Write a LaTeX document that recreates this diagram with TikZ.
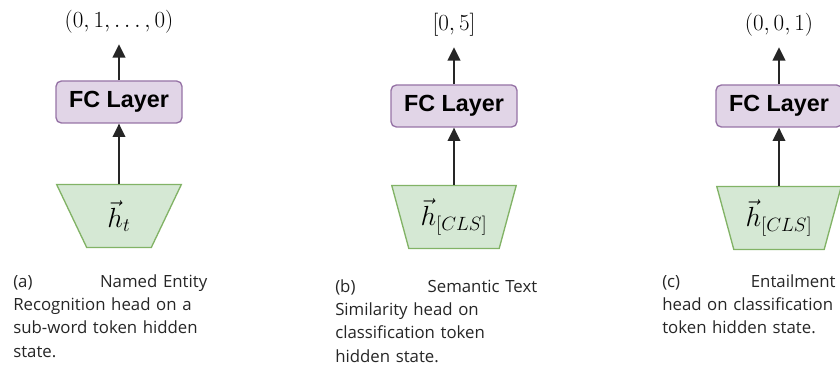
\documentclass[tikz,border=0pt]{standalone}
\usepackage{amsmath}
\usepackage{fontspec}
\newfontfamily\fcfont{Liberation Sans}
\newfontfamily\capfont{Open Sans}
\usepackage{xcolor}
\usetikzlibrary{arrows.meta, positioning, shapes.geometric}
\definecolor{fcfill}{HTML}{E1D5E7}
\definecolor{fcline}{HTML}{9673A6}
\definecolor{hidfill}{HTML}{D5E8D4}
\definecolor{hidline}{HTML}{82B366}

\begin{document}
\begin{tikzpicture}[
    x=0.75pt, y=-0.75pt,
    fc/.style={draw=fcline, fill=fcfill, line width=1pt, rounded corners=4pt,
               minimum width=94.5pt, minimum height=31.5pt, inner sep=0pt,
               font=\fcfont\bfseries\fontsize{17.5}{20}\selectfont},
    hid/.style={trapezium, shape border rotate=180, trapezium stretches=true,
                trapezium left angle=71, trapezium right angle=71,
                draw=hidline, fill=hidfill, line width=1pt,
                minimum width=93.75pt, minimum height=47.25pt, inner sep=0pt,
                font=\fontsize{20}{24}\selectfont},
    outv/.style={inner sep=0pt, minimum height=33pt,
                 font=\fontsize{17.5}{20}\selectfont},
    capt/.style={anchor=north west, inner sep=0pt, align=left, text=black!85,
                 font=\capfont\fontsize{12.6}{17.5}\selectfont},
    arr/.style={-{Triangle[length=10pt, width=9.5pt]}, line width=1.3pt, draw=black!85}]
    \useasboundingbox (0,0) rectangle (840,374);
    % (a) named entity recognition
    \node[outv] (outa) at (119,22)  {$(0,1,\ldots,0)$};
    \node[fc]   (fca)  at (119,102) {FC Layer};
    \node[hid]  (hida) at (119,216) {$\vec{h}_t$};
    \node[capt, text width=145.5pt] (capa) at (13,274)
         {\makebox[\linewidth][s]{(a)\hfill Named Entity}\\Recognition head on a\\
          sub-word token hidden\\state.};
    % (b) semantic text similarity
    \node[outv] (outb) at (454,25)  {$[0,5]$};
    \node[fc]   (fcb)  at (454,106) {FC Layer};
    \node[hid]  (hidb) at (454,217) {$\vec{h}_{[CLS]}$};
    \node[capt, text width=151.5pt] (capb) at (335,279)
         {\makebox[\linewidth][s]{(b)\hfill Semantic Text}\\Similarity head on\\
          classification token\\hidden state.};
    % (c) entailment
    \node[outv] (outc) at (779,25)  {$(0,0,1)$};
    \node[fc]   (fcc)  at (779,106) {FC Layer};
    \node[hid]  (hidc) at (779,218) {$\vec{h}_{[CLS]}$};
    \node[capt, text width=130pt] (capc) at (662,274)
         {\makebox[\linewidth][s]{(c)\hfill Entailment}\\head on classification\\
          token hidden state.};
    \draw[arr] (hida) -- (fca);
    \draw[arr] (fca) -- (outa);
    \draw[arr] (hidb) -- (fcb);
    \draw[arr] (fcb) -- (outb);
    \draw[arr] (hidc) -- (fcc);
    \draw[arr] (fcc) -- (outc);
  \end{tikzpicture}
\end{document}
